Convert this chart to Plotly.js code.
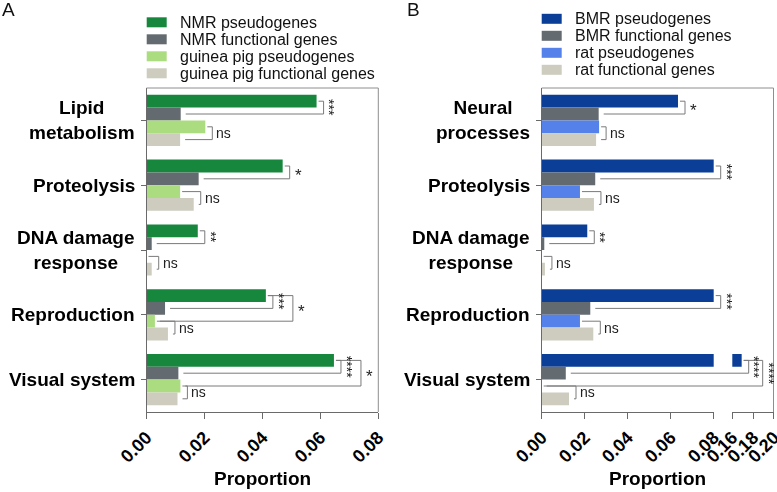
<!DOCTYPE html>
<html>
<head>
<meta charset="utf-8">
<script src="https://cdn.plot.ly/plotly-3.0.1.min.js"></script>
<style>
html,body{margin:0;padding:0;background:#fff;}
#chart{width:777px;height:492px;}
.annotation-text{filter:grayscale(100%);}
</style>
</head>
<body>
<div id="chart"></div>
<script>
// ---------- data ----------
const categoriesA = ['Lipid<br>metabolism', 'Proteolysis', 'DNA damage<br>response', 'Reproduction', 'Visual system'];
const nmrPseudo     = [0.0587, 0.0470, 0.0177, 0.0412, 0.0647];
const nmrFunctional = [0.0118, 0.0180, 0.0018, 0.0064, 0.0110];
const gpPseudo      = [0.0203, 0.0116, 0.0000, 0.0029, 0.0117];
const gpFunctional  = [0.0116, 0.0163, 0.0018, 0.0074, 0.0107];

const categoriesB = ['Neural<br>processes', 'Proteolysis', 'DNA damage<br>response', 'Reproduction', 'Visual system'];
const bmrPseudo     = [0.0634, 0.0850, 0.0212, 0.0850, 0.1690];
const bmrFunctional = [0.0265, 0.0249, 0.0012, 0.0226, 0.0112];
const ratPseudo     = [0.0267, 0.0178, 0.0000, 0.0178, 0.0000];
const ratFunctional = [0.0253, 0.0243, 0.0015, 0.0240, 0.0127];

const seriesNamesA = ['NMR pseudogenes', 'NMR functional genes', 'guinea pig pseudogenes', 'guinea pig functional genes'];
const seriesNamesB = ['BMR pseudogenes', 'BMR functional genes', 'rat pseudogenes', 'rat functional genes'];
const ticksA = [0, 0.02, 0.04, 0.06, 0.08];
const ticksB1 = [0, 0.02, 0.04, 0.06, 0.08];
const ticksB2 = [0.16, 0.18, 0.20];

// significance brackets: [category, upper bar, lower bar, label, level]
const sigA = [[0,0,1,'***',0],[0,2,3,'ns',0],[1,0,1,'*',0],[1,2,3,'ns',0],[2,0,1,'**',0],[2,2,3,'ns',0],
              [3,0,1,'***',0],[3,0,2,'*',1],[3,2,3,'ns',0],[4,0,1,'****',0],[4,0,2,'*',1],[4,2,3,'ns',0]];
const sigB = [[0,0,1,'*',0],[0,2,3,'ns',0],[1,0,1,'***',0],[1,2,3,'ns',0],[2,0,1,'**',0],[2,2,3,'ns',0],
              [3,0,1,'***',0],[3,2,3,'ns',0],[4,0,1,'****',0],[4,0,2,'****',1],[4,2,3,'ns',0]];

// ---------- styling ----------
const W = 777, H = 492;
const colorsA = ['#17873e', '#636a70', '#acdc80', '#cdccbf'];
const colorsB = ['#0b3f97', '#636a70', '#5481ea', '#cdccbf'];
const FONT = 'Liberation Sans, Arial, Helvetica, sans-serif';
const axisCol = '#6a6a6a', frameCol = '#8e8e8e', brCol = '#7a7a7a';
const TOP = 88, BOT = 412;
const dom = {A:[146.5, 378.3], B1:[541.7, 713.7], B2:[732.3, 774]};
const BARGAP = 0.21, NB = 4, bw = (1 - BARGAP) / NB;

function xpx(panel, v) {
  if (panel === 'A') return dom.A[0] + v / 0.08 * (dom.A[1] - dom.A[0]);
  if (v <= 0.08) return dom.B1[0] + v / 0.08 * (dom.B1[1] - dom.B1[0]);
  if (v < 0.16) return dom.B1[1];
  return dom.B2[0] + (v - 0.16) / 0.04 * (dom.B2[1] - dom.B2[0]);
}
const px = p => p / W;
const barY = (cat, i) => cat + (i - 1.5) * bw;

const valsA = [nmrPseudo, nmrFunctional, gpPseudo, gpFunctional];
const valsB = [bmrPseudo, bmrFunctional, ratPseudo, ratFunctional];
const cats = [0, 1, 2, 3, 4];

const traces = [];
valsA.forEach((v, i) => traces.push({type:'bar', orientation:'h', x:v, y:cats, xaxis:'x', yaxis:'y',
  name:seriesNamesA[i], marker:{color:colorsA[i]}, showlegend:false, hoverinfo:'x'}));
valsB.forEach((v, i) => traces.push({type:'bar', orientation:'h', x:v, y:cats, xaxis:'x2', yaxis:'y2',
  name:seriesNamesB[i], marker:{color:colorsB[i]}, showlegend:false, hoverinfo:'x'}));
valsB.forEach((v, i) => traces.push({type:'bar', orientation:'h', x:v, y:cats, xaxis:'x3', yaxis:'y2',
  name:seriesNamesB[i], marker:{color:colorsB[i]}, showlegend:false, hoverinfo:'x'}));

const shapes = [], annotations = [];
function line(x0, y0, x1, y1, yref, col, w) {
  shapes.push({type:'line', xref:'paper', yref:yref, x0:px(x0), x1:px(x1), y0:y0, y1:y1,
    line:{color:col || brCol, width:w || 1}, layer:'above'});
}
function brackets(panel, sig, vals, yref, outerStep) {
  sig.forEach(([c, a, b, lab, lvl]) => {
    let mx = 0;
    for (let k = a; k <= b; k++) mx = Math.max(mx, xpx(panel, vals[k][c]));
    let bx = mx + 7 + (lvl ? outerStep : 0);
    const ya = barY(c, a), yb = barY(c, b);
    line(xpx(panel, vals[a][c]) + 2, ya, bx, ya, yref);
    line(bx, ya, bx, yb, yref);
    line(xpx(panel, vals[b][c]) + 5, yb, bx, yb, yref);
    const ym = (ya + yb) / 2;
    if (lab === 'ns') {
      annotations.push({xref:'paper', yref:yref, x:px(bx + 2), y:ym, xanchor:'left', yanchor:'middle',
        text:'ns', showarrow:false, font:{family:FONT, size:14, color:'#222'}});
    } else if (lab === '*') {
      annotations.push({xref:'paper', yref:yref, x:px(bx + 3), y:ym, xanchor:'left', yanchor:'middle', yshift:-3,
        text:'*', showarrow:false, font:{family:FONT, size:17, color:'#222'}});
    } else {
      annotations.push({xref:'paper', yref:yref, x:px(bx + 6), y:ym, xanchor:'center', yanchor:'middle',
        text:lab, textangle:90, showarrow:false, borderpad:0,
        font:{family:FONT, size:14, color:'#222'}});
    }
  });
}
brackets('A', sigA, valsA, 'y', 20);
brackets('B', sigB, valsB, 'y2', 14);

// frames (top and right)
shapes.push({type:'line', xref:'paper', yref:'paper', x0:px(dom.A[0]), x1:px(dom.A[1]), y0:1-TOP/H, y1:1-TOP/H, line:{color:frameCol, width:1}});
shapes.push({type:'line', xref:'paper', yref:'paper', x0:px(dom.A[1]), x1:px(dom.A[1]), y0:1-TOP/H, y1:1-BOT/H, line:{color:frameCol, width:1}});
shapes.push({type:'line', xref:'paper', yref:'paper', x0:px(dom.B1[0]), x1:px(dom.B2[1]-0.5), y0:1-TOP/H, y1:1-TOP/H, line:{color:frameCol, width:1}});
shapes.push({type:'line', xref:'paper', yref:'paper', x0:px(dom.B2[1]-0.5), x1:px(dom.B2[1]-0.5), y0:1-TOP/H, y1:1-BOT/H, line:{color:frameCol, width:1}});

// category labels
categoriesA.forEach((t, i) => annotations.push({xref:'paper', yref:'y', x:px(dom.A[0] - 10), y:i, xanchor:'right', yanchor:'middle',
  align:'center', text:t, showarrow:false, font:{family:FONT, size:19, weight:'bold', color:'#000'}}));
categoriesB.forEach((t, i) => annotations.push({xref:'paper', yref:'y2', x:px(dom.B1[0] - 10), y:i, xanchor:'right', yanchor:'middle',
  align:'center', text:t, showarrow:false, font:{family:FONT, size:19, weight:'bold', color:'#000'}}));

// legends (manual)
function legend(names, colors, sx, tx, y0) {
  names.forEach((n, i) => {
    const yc = y0 + i * 17;
    shapes.push({type:'rect', xref:'paper', yref:'paper', x0:px(sx), x1:px(sx + 20), y0:1-(yc-5)/H, y1:1-(yc+5)/H,
      fillcolor:colors[i], line:{width:0}});
    annotations.push({xref:'paper', yref:'paper', x:px(tx), y:1-yc/H, xanchor:'left', yanchor:'middle',
      text:n, showarrow:false, font:{family:FONT, size:16, color:'#111'}});
  });
}
legend(seriesNamesA, colorsA, 146.7, 178, 22.3);
legend(seriesNamesB, colorsB, 541.7, 573, 18.8);

// panel letters and axis titles
annotations.push({xref:'paper', yref:'paper', x:0, y:1-10/H, xanchor:'left', yanchor:'middle', text:'A', showarrow:false, font:{family:FONT, size:19, color:'#111'}});
annotations.push({xref:'paper', yref:'paper', x:px(405), y:1-10/H, xanchor:'left', yanchor:'middle', text:'B', showarrow:false, font:{family:FONT, size:19, color:'#111'}});
annotations.push({xref:'paper', yref:'paper', x:px((dom.A[0]+dom.A[1])/2), y:1-478/H, xanchor:'center', yanchor:'middle', text:'Proportion', showarrow:false, font:{family:FONT, size:19, weight:'bold', color:'#000'}});
annotations.push({xref:'paper', yref:'paper', x:px((dom.B1[0]+dom.B2[1])/2), y:1-478/H, xanchor:'center', yanchor:'middle', text:'Proportion', showarrow:false, font:{family:FONT, size:19, weight:'bold', color:'#000'}});

const xStyle = {showline:true, linecolor:axisCol, linewidth:1, ticks:'outside', ticklen:6, tickcolor:axisCol,
  tickangle:-45, tickformat:'.2f', tickfont:{family:FONT, size:18, weight:'bold', color:'#000'},
  ticklabeloverflow:'allow', ticklabelstandoff:1,
  showgrid:false, zeroline:false, fixedrange:true};
const yStyle = {showline:true, linecolor:axisCol, linewidth:1, ticks:'outside', ticklen:5, tickcolor:axisCol,
  tickvals:cats, showticklabels:false, range:[4.5, -0.5], showgrid:false, zeroline:false, fixedrange:true,
  domain:[1-BOT/H, 1-TOP/H]};

const layout = {
  width:W, height:H, margin:{l:0, r:0, t:0, b:0}, paper_bgcolor:'#fff', plot_bgcolor:'rgba(0,0,0,0)',
  barmode:'group', bargap:BARGAP, bargroupgap:0, showlegend:false,
  font:{family:FONT},
  xaxis: Object.assign({}, xStyle, {domain:[px(dom.A[0]), px(dom.A[1])], range:[0, 0.08001], tickvals:ticksA, anchor:'y'}),
  yaxis: Object.assign({}, yStyle, {anchor:'x'}),
  xaxis2: Object.assign({}, xStyle, {domain:[px(dom.B1[0]), px(dom.B1[1])], range:[0, 0.08001], tickvals:ticksB1, anchor:'y2'}),
  xaxis3: Object.assign({}, xStyle, {domain:[px(dom.B2[0]), px(dom.B2[1])], range:[0.16, 0.20005], tickvals:ticksB2, anchor:'y2'}),
  yaxis2: Object.assign({}, yStyle, {anchor:'x2'}),
  shapes:shapes, annotations:annotations
};
Plotly.newPlot('chart', traces, layout, {displayModeBar:false, staticPlot:true});
</script>
</body>
</html>
